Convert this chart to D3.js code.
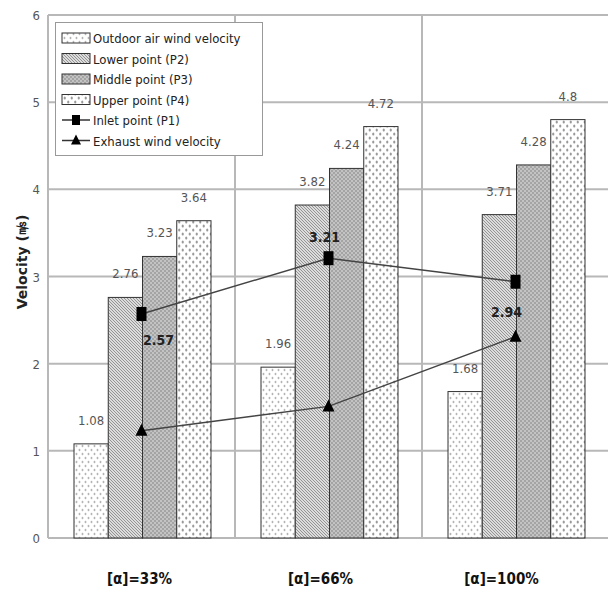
<!DOCTYPE html>
<html>
<head>
<meta charset="utf-8">
<script src="https://cdn.jsdelivr.net/npm/d3@7"></script>
<style>
  body { margin: 0; background: #fff; }
  svg { display: block; font-family: "DejaVu Sans Condensed", "DejaVu Sans", sans-serif; }
</style>
</head>
<body>
<svg width="608" height="595"></svg>
<script>
var categories = ["[α]=33%", "[α]=66%", "[α]=100%"];
var outdoor = [1.08, 1.96, 1.68];
var lower = [2.76, 3.82, 3.71];
var middle = [3.23, 4.24, 4.28];
var upper = [3.64, 4.72, 4.8];
var inlet = [2.57, 3.21, 2.94];
var exhaust = [1.23, 1.51, 2.31];
var yTicks = [0, 1, 2, 3, 4, 5, 6];
var barNames = ["Outdoor air wind velocity", "Lower point (P2)", "Middle point (P3)", "Upper point (P4)"];
var lineNames = ["Inlet point (P1)", "Exhaust wind velocity"];

function init() {
    var svg = d3.select("svg"),
        left = 48, right = 609, top = 15, bottom = 538;

    var x = d3.scaleBand().domain(categories).range([left, right]),
        x1 = d3.scaleBand().domain(d3.range(4)).range([26, 163]),
        xLab = d3.scaleBand().domain(categories).range([49, 592]),
        y = d3.scaleLinear().domain([0, 6]).range([bottom, top]);

    var series = [outdoor, lower, middle, upper];
    var fills = ["url(#pOut)", "url(#pLow)", "url(#pMid)", "url(#pUp)"];

    // patterns
    var defs = svg.append("defs");
    var p = defs.append("pattern").attr("id", "pOut").attr("patternUnits", "userSpaceOnUse")
        .attr("width", 6).attr("height", 8);
    p.append("rect").attr("width", 6).attr("height", 8).attr("fill", "#fff");
    p.append("ellipse").attr("cx", 1.5).attr("cy", 2).attr("rx", 0.9).attr("ry", 1.2).attr("fill", "#b4b4b4");
    p.append("ellipse").attr("cx", 4.5).attr("cy", 6).attr("rx", 0.9).attr("ry", 1.2).attr("fill", "#b4b4b4");

    p = defs.append("pattern").attr("id", "pLow").attr("patternUnits", "userSpaceOnUse")
        .attr("width", 3).attr("height", 3);
    p.append("rect").attr("width", 3).attr("height", 3).attr("fill", "#dcdcdc");
    p.append("path").attr("d", "M0,0L3,3M-1,2L1,4M2,-1L4,1").attr("stroke", "#8c8c8c").attr("stroke-width", 0.9);

    p = defs.append("pattern").attr("id", "pMid").attr("patternUnits", "userSpaceOnUse")
        .attr("width", 4).attr("height", 4);
    p.append("rect").attr("width", 4).attr("height", 4).attr("fill", "#a4a4a4");
    p.append("circle").attr("cx", 1).attr("cy", 1).attr("r", 0.8).attr("fill", "#ececec");
    p.append("circle").attr("cx", 3).attr("cy", 3).attr("r", 0.8).attr("fill", "#ececec");

    p = defs.append("pattern").attr("id", "pUp").attr("patternUnits", "userSpaceOnUse")
        .attr("width", 7).attr("height", 8);
    p.append("rect").attr("width", 7).attr("height", 8).attr("fill", "#fff");
    p.append("ellipse").attr("cx", 1.75).attr("cy", 2).attr("rx", 1.1).attr("ry", 1.5).attr("fill", "#999");
    p.append("ellipse").attr("cx", 5.25).attr("cy", 6).attr("rx", 1.1).attr("ry", 1.5).attr("fill", "#999");

    // grid
    svg.append("g").selectAll("line.h").data(yTicks).enter().append("line")
        .attr("x1", left).attr("x2", 608)
        .attr("y1", function(d) { return y(d); }).attr("y2", function(d) { return y(d); })
        .attr("stroke", "#b8b8b8").attr("stroke-width", 2);
    svg.append("g").selectAll("line.v").data(categories).enter().append("line")
        .attr("x1", function(d) { return x(d); }).attr("x2", function(d) { return x(d); })
        .attr("y1", top).attr("y2", bottom)
        .attr("stroke", "#b8b8b8").attr("stroke-width", 2);

    // y tick labels
    svg.append("g").selectAll("text").data(yTicks).enter().append("text")
        .attr("x", 40).attr("y", function(d) { return y(d) + 5; })
        .attr("text-anchor", "end").attr("font-size", 13).attr("fill", "#555")
        .text(function(d) { return d; });

    svg.append("text")
        .attr("transform", "translate(27,262) rotate(-90)")
        .attr("text-anchor", "middle").attr("font-size", 14).attr("font-weight", "bold")
        .attr("font-family", "DejaVu Sans, sans-serif").attr("fill", "#222")
        .text("Velocity (㎧)");

    // bars
    var groups = svg.append("g").selectAll("g").data(categories).enter().append("g")
        .attr("transform", function(d) { return "translate(" + x(d) + ",0)"; });
    groups.selectAll("rect").data(function(d, i) { return series.map(function(s, k) { return {k: k, v: s[i]}; }); })
        .enter().append("rect")
        .attr("x", function(d) { return x1(d.k); })
        .attr("width", x1.bandwidth())
        .attr("y", function(d) { return y(d.v); })
        .attr("height", function(d) { return bottom - y(d.v); })
        .attr("fill", function(d) { return fills[d.k]; })
        .attr("stroke", "#333").attr("stroke-width", 1);
    groups.selectAll("text").data(function(d, i) { return series.map(function(s, k) { return {k: k, v: s[i]}; }); })
        .enter().append("text")
        .attr("x", function(d) { return x1(d.k) + x1.bandwidth() / 2; })
        .attr("y", function(d) { return y(d.v) - 19; })
        .attr("text-anchor", "middle").attr("font-size", 13).attr("fill", "#555")
        .text(function(d) { return d.v; });

    // lines
    var cx = function(d, i) { return x(categories[i]) + x.bandwidth() / 2; };
    var line = d3.line().x(cx).y(function(d) { return y(d); });
    svg.append("path").datum(inlet).attr("d", line)
        .attr("fill", "none").attr("stroke", "#444").attr("stroke-width", 1.5);
    svg.append("path").datum(exhaust).attr("d", line)
        .attr("fill", "none").attr("stroke", "#444").attr("stroke-width", 1.5);
    svg.append("g").selectAll("rect").data(inlet).enter().append("rect")
        .attr("x", function(d, i) { return cx(d, i) - 5; }).attr("y", function(d) { return y(d) - 7; })
        .attr("width", 10).attr("height", 14).attr("fill", "#000");
    svg.append("g").selectAll("path").data(exhaust).enter().append("path")
        .attr("d", function(d, i) { var px = cx(d, i), py = y(d);
            return "M" + px + "," + (py - 7) + "L" + (px + 6) + "," + (py + 5) + "L" + (px - 6) + "," + (py + 5) + "Z"; })
        .attr("fill", "#000");

    // inlet value labels
    var inletDx = [17, -4, -9], inletDy = [31, -16, 35];
    svg.append("g").selectAll("text").data(inlet).enter().append("text")
        .attr("x", function(d, i) { return cx(d, i) + inletDx[i]; })
        .attr("y", function(d, i) { return y(d) + inletDy[i]; })
        .attr("text-anchor", "middle").attr("font-size", 14).attr("font-weight", "bold").attr("fill", "#222")
        .text(function(d) { return d; });

    // x labels
    svg.append("g").selectAll("text").data(categories).enter().append("text")
        .attr("x", function(d) { return xLab(d) + xLab.bandwidth() / 2; })
        .attr("y", 584).attr("text-anchor", "middle")
        .attr("font-size", 15).attr("font-weight", "bold").attr("fill", "#111")
        .text(function(d) { return d; });

    // legend
    var lg = svg.append("g");
    lg.append("rect").attr("x", 55.5).attr("y", 22.5).attr("width", 207).attr("height", 133)
        .attr("fill", "#fff").attr("stroke", "#999");
    var rowY = function(i) { return 38 + i * 20.5; };
    lg.selectAll("rect.sw").data(barNames).enter().append("rect")
        .attr("x", 62).attr("y", function(d, i) { return rowY(i) - 5; })
        .attr("width", 28).attr("height", 10)
        .attr("fill", function(d, i) { return fills[i]; }).attr("stroke", "#333");
    lg.selectAll("line.sw").data(lineNames).enter().append("line")
        .attr("x1", 62).attr("x2", 90)
        .attr("y1", function(d, i) { return rowY(i + 4); }).attr("y2", function(d, i) { return rowY(i + 4); })
        .attr("stroke", "#333").attr("stroke-width", 1.5);
    lg.append("rect").attr("x", 72).attr("y", rowY(4) - 5).attr("width", 8).attr("height", 10).attr("fill", "#000");
    lg.append("path").attr("d", "M76," + (rowY(5) - 6) + "L81," + (rowY(5) + 4) + "L71," + (rowY(5) + 4) + "Z").attr("fill", "#000");
    lg.selectAll("text").data(barNames.concat(lineNames)).enter().append("text")
        .attr("x", 93).attr("y", function(d, i) { return rowY(i) + 5; })
        .attr("font-size", 13).attr("fill", "#222")
        .text(function(d) { return d; });
}
init();
</script>
</body>
</html>
